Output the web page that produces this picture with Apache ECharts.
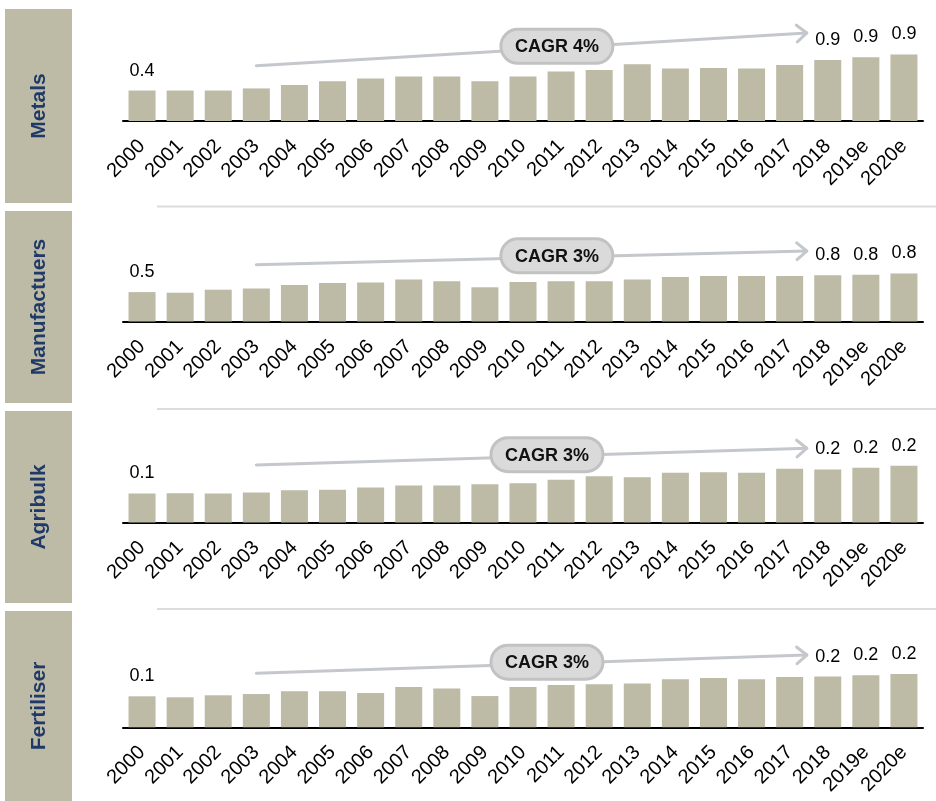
<!DOCTYPE html>
<html>
<head>
<meta charset="utf-8">
<style>
  html, body { margin: 0; padding: 0; background: #fff; }
  #chart { width: 936px; height: 801px; }
</style>
<script src="https://cdn.jsdelivr.net/npm/echarts@6/dist/echarts.min.js"></script>
</head>
<body>
<div id="chart"></div>
<script>
// categories
const years = ['2000', '2001', '2002', '2003', '2004', '2005', '2006', '2007', '2008', '2009', '2010',
  '2011', '2012', '2013', '2014', '2015', '2016', '2017', '2018', '2019e', '2020e']

// series values
const metals = [0.43, 0.43, 0.43, 0.46, 0.51, 0.56, 0.60, 0.63, 0.63, 0.56, 0.63,
  0.70, 0.72, 0.80, 0.74, 0.75, 0.74, 0.79, 0.86, 0.90, 0.94]
const manufacturers = [0.49, 0.48, 0.53, 0.55, 0.61, 0.64, 0.65, 0.70, 0.67, 0.57, 0.66,
  0.67, 0.67, 0.70, 0.74, 0.76, 0.76, 0.76, 0.77, 0.78, 0.80]
const agribulk = [0.116, 0.117, 0.116, 0.120, 0.129, 0.131, 0.140, 0.148, 0.148, 0.153, 0.157,
  0.171, 0.185, 0.181, 0.199, 0.201, 0.199, 0.215, 0.212, 0.219, 0.227]
const fertiliser = [0.124, 0.120, 0.128, 0.133, 0.144, 0.144, 0.137, 0.161, 0.155, 0.125, 0.161,
  0.169, 0.172, 0.175, 0.192, 0.197, 0.192, 0.201, 0.203, 0.208, 0.213]

const panelNames = ['Metals', 'Manufactuers', 'Agribulk', 'Fertiliser']
const panelValues = [metals, manufacturers, agribulk, fertiliser]
const cagrLabels = ['CAGR 4%', 'CAGR 3%', 'CAGR 3%', 'CAGR 3%']
// arrow start / end heights in data units (start at 2003, end just before 2018)
const cagrFrom = [0.78, 0.947, 0.23, 0.216]
const cagrTo = [1.243, 1.175, 0.297, 0.289]
const labelledIdx = [0, 18, 19, 20]

// layout
const grids = [
  { top: 36, height: 85, max: 1.2 },
  { top: 237.5, height: 84, max: 1.4 },
  { top: 437.5, height: 85, max: 0.34 },
  { top: 642.3, height: 85, max: 0.34 }
]
const boxes = [[9, 194], [211, 192], [411, 192], [611, 190]]
const FONT = '"Liberation Sans", Arial, Helvetica, sans-serif'
const BAR = '#bdbaa6'

const chart = echarts.init(document.getElementById('chart'))

const staticGraphic = []
panelNames.forEach((name, i) => {
  const [y0, h] = boxes[i]
  staticGraphic.push({
    type: 'rect', shape: { x: 5, y: y0, width: 67, height: h },
    style: { fill: BAR }, silent: true
  })
  staticGraphic.push({
    type: 'text', x: 39, y: y0 + h / 2, rotation: Math.PI / 2,
    style: { text: name, fill: '#1f3a68', font: 'bold 21px ' + FONT, align: 'center', verticalAlign: 'middle' },
    silent: true
  })
})
;[206.5, 409, 609].forEach(y => {
  staticGraphic.push({
    type: 'line', shape: { x1: 157, y1: y, x2: 936, y2: y },
    style: { stroke: '#dcdcdc', lineWidth: 2 }, silent: true
  })
})

chart.setOption({
  animation: false,
  grid: grids.map(g => ({ left: 123, right: 13, top: g.top, height: g.height })),
  xAxis: grids.map((g, i) => ({
    type: 'category',
    gridIndex: i,
    data: years,
    axisLine: { lineStyle: { color: '#000', width: 2 } },
    axisTick: { show: false },
    axisLabel: { interval: 0, rotate: 45, margin: 22, color: '#000', fontSize: 20, fontFamily: FONT }
  })),
  yAxis: grids.map((g, i) => ({
    type: 'value', gridIndex: i, min: 0, max: g.max, show: false, splitLine: { show: false }
  })),
  series: panelValues.map((vals, i) => ({
    type: 'bar',
    xAxisIndex: i,
    yAxisIndex: i,
    barWidth: 27,
    itemStyle: { color: BAR },
    data: vals.map((v, j) => ({
      value: v,
      label: {
        show: labelledIdx.includes(j),
        position: 'top',
        distance: 11,
        color: '#000',
        fontSize: 18,
        fontFamily: FONT,
        formatter: p => (Math.round(p.value * 10) / 10).toFixed(1)
      }
    }))
  })),
  graphic: staticGraphic
})

// CAGR arrows, placed through the axes
const arrowGraphic = staticGraphic.slice()
grids.forEach((g, i) => {
  const finder = { gridIndex: i }
  const p0 = chart.convertToPixel(finder, [3, cagrFrom[i]])
  const a = chart.convertToPixel(finder, [17, cagrTo[i]])
  const b = chart.convertToPixel(finder, [18, cagrTo[i]])
  const p1 = [a[0] + 0.45 * (b[0] - a[0]), a[1]]
  const lineStyle = { stroke: '#c4c7cb', lineWidth: 3, lineCap: 'round', lineJoin: 'round' }
  arrowGraphic.push({
    type: 'line', shape: { x1: p0[0], y1: p0[1], x2: p1[0], y2: p1[1] }, style: lineStyle, silent: true, z: 10
  })
  const ang = Math.atan2(p1[1] - p0[1], p1[0] - p0[0])
  const len = 13
  const spread = Math.PI / 4.5
  arrowGraphic.push({
    type: 'polyline',
    shape: {
      points: [
        [p1[0] - len * Math.cos(ang - spread), p1[1] - len * Math.sin(ang - spread)],
        [p1[0], p1[1]],
        [p1[0] - len * Math.cos(ang + spread), p1[1] - len * Math.sin(ang + spread)]
      ]
    },
    style: Object.assign({ fill: null }, lineStyle), silent: true, z: 10
  })
  const t = i < 2 ? 0.546 : 0.528
  const cx = p0[0] + t * (p1[0] - p0[0])
  const cy = p0[1] + t * (p1[1] - p0[1]) - 1.5
  const w = 112, h = 34
  arrowGraphic.push({
    type: 'rect',
    shape: { x: cx - w / 2, y: cy - h / 2, width: w, height: h, r: h / 2 },
    style: { fill: '#dadada', stroke: '#c2c2c2', lineWidth: 3 },
    silent: true, z: 11
  })
  arrowGraphic.push({
    type: 'text', x: cx, y: cy + 1,
    style: { text: cagrLabels[i], fill: '#111', font: 'bold 18px ' + FONT, align: 'center', verticalAlign: 'middle' },
    silent: true, z: 12
  })
})
chart.setOption({ graphic: arrowGraphic }, { replaceMerge: ['graphic'] })
</script>
</body>
</html>
